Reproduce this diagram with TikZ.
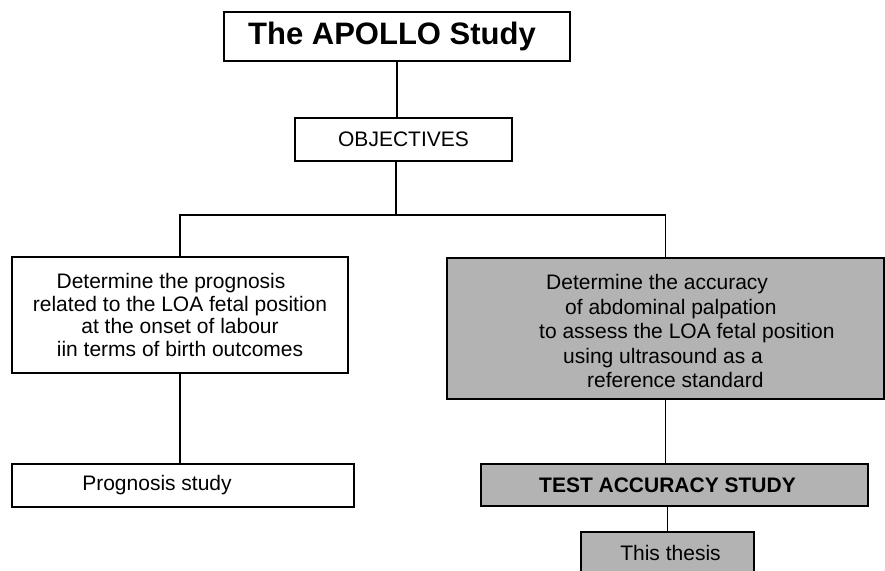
\documentclass[tikz,border=0pt]{standalone}
\usepackage{fontspec}
\setmainfont{Liberation Sans}
\definecolor{boxgray}{RGB}{179,179,179}
\begin{document}
\begin{tikzpicture}[x=1pt,y=-1pt,
  box/.style={draw=black,line width=1.5pt,inner sep=0pt,outer sep=0pt,
    font=\fontsize{21}{22.5}\selectfont},
  graybox/.style={box,fill=boxgray},
  conn/.style={draw=black,line width=1.5pt}]
\useasboundingbox (0,0) rectangle (885,570);
\begin{scope}
\clip (0,0) rectangle (885,570);
\node[box,minimum width=346pt,minimum height=49pt,font=\fontsize{31}{34}\selectfont\bfseries]
  (title) at (397,36.5) {The APOLLO Study\kern10pt};
\node[box,minimum width=217pt,minimum height=43pt] (obj) at (403.5,139.5) {OBJECTIVES};
\node[box,minimum width=336pt,minimum height=116pt,align=center] (left) at (180,315)
  {Determine the prognosis\kern18pt\\related to the LOA fetal position\\at the onset of labour\\iin terms of birth outcomes};
\node[graybox,minimum width=437pt,minimum height=141pt] (right) at (665.5,328.5) {};
\node[anchor=west,inner sep=0pt,align=left,font=\fontsize{21}{24.5}\selectfont] (rtext) at (539,331)
  {\hspace*{7pt}Determine the accuracy\\
   \hspace*{26pt}of abdominal palpation\\
   to assess the LOA fetal position\\
   \hspace*{24pt}using ultrasound as a\\
   \hspace*{48pt}reference standard};
\node[box,minimum width=342pt,minimum height=43pt] (prog) at (183,485.5) {Prognosis study\kern52pt};
\node[graybox,minimum width=387pt,minimum height=42pt,font=\fontsize{21}{22.5}\selectfont\bfseries]
  (test) at (674.5,485) {TEST ACCURACY STUDY\kern14pt};
\node[graybox,minimum width=173pt,minimum height=42pt] (thesis) at (667.5,553) {\kern6pt This thesis};
\coordinate (hub) at (396,215);
\draw[conn] (title.south) -- (title.south |- obj.north);
\draw[conn] (hub |- obj.south) -- (hub);
\draw[conn] (left.north) |- (hub) -| (right.north);
\draw[conn] (left.south) -- (left.south |- prog.north);
\draw[conn] (right.south) -- (right.south |- test.north);
\draw[conn] (thesis.north) -- (thesis.north |- test.south);
\end{scope}
\end{tikzpicture}
\end{document}
